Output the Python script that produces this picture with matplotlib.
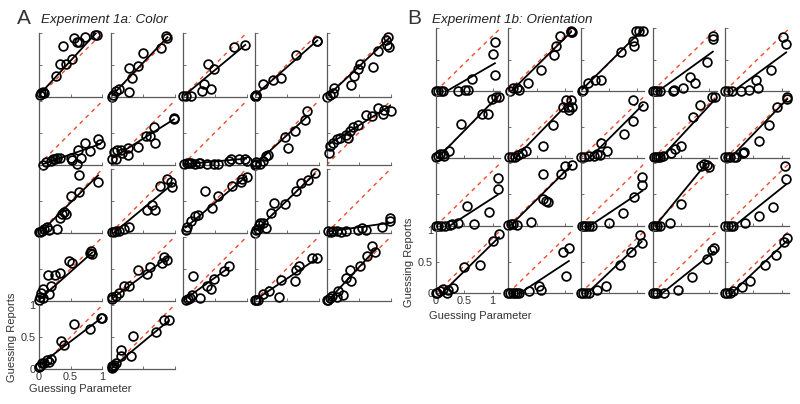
import matplotlib
matplotlib.use('Agg')
import matplotlib.pyplot as plt
import numpy as np

plt.rcParams['font.family'] = ['Liberation Sans', 'DejaVu Sans']

# ---------------- Data: Experiment 1a (Color), 22 subjects ----------------
A_param = [
    [0.02,0.04,0.07,0.09,0.28,0.33,0.38,0.43,0.53,0.55,0.60,0.64,0.72,0.88,0.91],
    [0.02,0.04,0.08,0.13,0.29,0.29,0.33,0.43,0.51,0.79,0.86,0.89],
    [0.01,0.06,0.14,0.30,0.34,0.45,0.40,0.49,0.80,0.98],
    [0.0,0.01,0.02,0.03,0.14,0.29,0.41,0.65,0.98,0.97],
    [0.0,0.05,0.12,0.10,0.39,0.43,0.49,0.52,0.73,0.81,0.93,0.96,0.98,0.94],
    [0.07,0.12,0.20,0.25,0.29,0.33,0.22,0.51,0.53,0.60,0.61,0.67,0.72,0.80,0.93,0.96],
    [0.02,0.05,0.08,0.10,0.16,0.18,0.28,0.28,0.43,0.56,0.61,0.68,0.69,0.99,0.99],
    [0.03,0.07,0.10,0.14,0.20,0.25,0.28,0.38,0.49,0.56,0.72,0.76,0.88,0.98,1.0],
    [0.0,0.03,0.08,0.13,0.18,0.21,0.52,0.47,0.64,0.79,0.82,0.02],
    [0.04,0.05,0.10,0.17,0.21,0.30,0.34,0.36,0.41,0.49,0.61,0.71,0.81,0.89,0.90,1.0],
    [0.0,0.03,0.06,0.09,0.13,0.17,0.29,0.33,0.37,0.40,0.43,0.51,0.64,0.64,0.93],
    [0.02,0.05,0.09,0.13,0.21,0.29,0.57,0.65,0.69,0.77,0.89,0.94,0.96],
    [0.05,0.07,0.14,0.20,0.24,0.35,0.46,0.55,0.78,0.91,0.93,1.0],
    [0.0,0.03,0.05,0.07,0.09,0.13,0.18,0.26,0.31,0.47,0.65,0.72,0.83,0.94],
    [0.03,0.07,0.10,0.17,0.23,0.31,0.49,0.55,0.61,0.87,0.99,0.99],
    [0.0,0.02,0.04,0.07,0.07,0.17,0.20,0.15,0.25,0.33,0.47,0.53,0.80,0.82,0.84],
    [0.02,0.03,0.08,0.13,0.21,0.29,0.43,0.57,0.61,0.80,0.83,0.89],
    [0.05,0.08,0.11,0.15,0.17,0.28,0.39,0.44,0.49,0.65,0.72],
    [0.0,0.03,0.05,0.13,0.23,0.39,0.42,0.63,0.65,0.69,0.90,0.98],
    [0.0,0.03,0.05,0.08,0.16,0.18,0.25,0.31,0.36,0.39,0.52,0.63,0.71,0.76],
    [0.01,0.03,0.05,0.09,0.14,0.17,0.19,0.35,0.40,0.56,0.81,0.97,0.99],
    [0.02,0.03,0.04,0.05,0.08,0.17,0.17,0.32,0.35,0.71,0.83,0.91],
]
A_reports = [
    [0.03,0.07,0.08,0.07,0.33,0.51,0.79,0.51,0.59,0.92,0.86,0.86,0.94,0.97,0.97],
    [0.0,0.03,0.09,0.12,0.08,0.46,0.30,0.48,0.69,0.77,0.95,0.92],
    [0.02,0.02,0.02,0.10,0.20,0.13,0.52,0.44,0.78,0.82],
    [0.02,0.01,0.03,0.02,0.20,0.27,0.30,0.66,0.88,0.87],
    [0.0,0.03,0.14,0.07,0.18,0.33,0.44,0.52,0.47,0.72,0.89,0.93,0.78,0.82],
    [0.0,0.04,0.06,0.10,0.11,0.11,0.09,0.11,0.08,0.02,0.24,0.11,0.35,0.22,0.40,0.33],
    [0.10,0.21,0.10,0.24,0.24,0.19,0.15,0.27,0.28,0.45,0.46,0.59,0.35,0.74,0.72],
    [0.02,0.03,0.03,0.03,0.02,0.03,0.03,0.01,0.02,0.02,0.06,0.10,0.09,0.09,0.06],
    [0.0,0.02,0.02,0.06,0.14,0.16,0.26,0.44,0.53,0.70,0.84,0.04],
    [0.19,0.30,0.35,0.40,0.42,0.47,0.42,0.53,0.59,0.63,0.78,0.77,0.89,0.80,0.86,0.84],
    [0.01,0.02,0.03,0.07,0.09,0.05,0.06,0.24,0.30,0.33,0.30,0.58,0.64,0.91,0.80],
    [0.01,0.02,0.03,0.03,0.06,0.10,0.36,0.44,0.36,0.73,0.84,0.80,0.72],
    [0.05,0.10,0.18,0.26,0.28,0.65,0.39,0.58,0.73,0.80,0.84,0.87],
    [0.0,0.05,0.07,0.13,0.15,0.16,0.08,0.32,0.47,0.45,0.66,0.78,0.83,0.93],
    [0.03,0.02,0.03,0.03,0.02,0.03,0.05,0.08,0.05,0.10,0.19,0.23],
    [0.02,0.07,0.13,0.05,0.19,0.11,0.23,0.41,0.41,0.44,0.63,0.59,0.75,0.78,0.74],
    [0.06,0.03,0.08,0.13,0.23,0.24,0.49,0.42,0.53,0.60,0.69,0.64],
    [0.02,0.03,0.05,0.09,0.39,0.05,0.23,0.18,0.35,0.47,0.54],
    [0.01,0.02,0.01,0.11,0.15,0.07,0.33,0.32,0.49,0.54,0.67,0.67],
    [0.01,0.02,0.05,0.08,0.07,0.15,0.10,0.36,0.48,0.31,0.54,0.71,0.86,0.77],
    [0.03,0.05,0.09,0.10,0.14,0.11,0.16,0.44,0.38,0.70,0.63,0.79,0.80],
    [0.01,0.05,0.03,0.06,0.09,0.30,0.20,0.20,0.51,0.58,0.77,0.77],
]
A_slope = [1.09,1.05,0.83,0.88,0.94,0.35,0.63,0.09,0.92,0.63,0.99,0.83,0.84,0.96,0.14,
           0.89,0.74,0.72,0.67,1.08,0.76,0.83]
A_icpt = [0.02,0.0,0.0,0.02,0.0,-0.01,0.09,0.01,0.0,0.30,-0.02,-0.04,0.045,0.02,0.02,
          0.01,0.02,0.0,0.01,-0.02,0.05,0.0]

# ---------------- Data: Experiment 1b (Orientation), 20 subjects ----------------
B_param = [
    [0.0,0.04,0.08,0.13,0.39,0.51,0.56,0.63,1.04,1.01,1.04],
    [0.03,0.08,0.15,0.19,0.35,0.58,0.80,0.85,0.92,1.11,1.11,1.12],
    [0.02,0.04,0.13,0.25,0.37,0.72,0.92,0.94,0.98,1.03,1.10],
    [0.01,0.04,0.08,0.13,0.36,0.37,0.53,0.65,0.74,0.96,1.06,1.06],
    [0.0,0.06,0.12,0.29,0.43,0.58,0.54,0.81,1.02,1.08],
    [0.0,0.04,0.07,0.12,0.15,0.23,0.45,0.82,0.92,0.98,1.06,1.11],
    [0.02,0.06,0.12,0.18,0.25,0.32,0.61,0.79,0.96,1.02,1.05,1.08,1.11,1.12],
    [0.0,0.06,0.15,0.23,0.29,0.34,0.46,0.37,0.76,0.92,0.92,1.10],
    [0.02,0.05,0.09,0.13,0.18,0.33,0.40,0.49,0.71,0.84,1.04,1.10],
    [0.0,0.05,0.09,0.16,0.20,0.31,0.33,0.60,0.77,0.91,1.09,1.10],
    [0.0,0.04,0.08,0.16,0.25,0.29,0.39,0.54,0.67,0.94,1.09,1.09],
    [0.0,0.04,0.09,0.16,0.40,0.61,0.61,0.66,0.71,0.94,1.0,1.12],
    [0.02,0.06,0.10,0.15,0.20,0.50,0.75,0.95,1.09,1.09],
    [0.0,0.04,0.08,0.12,0.30,0.50,0.85,0.90,0.96,1.0],
    [0.0,0.05,0.10,0.15,0.35,0.60,0.85,1.08,1.06],
    [0.0,0.02,0.07,0.12,0.19,0.22,0.30,0.49,0.77,1.01,1.11],
    [0.0,0.03,0.08,0.12,0.16,0.19,0.37,0.54,0.58,0.96,1.02,1.07],
    [0.0,0.05,0.10,0.15,0.30,0.45,0.70,0.90,1.05,1.08],
    [0.0,0.04,0.08,0.20,0.45,0.70,0.95,1.05,1.08],
    [0.0,0.04,0.08,0.15,0.30,0.45,0.70,0.90,1.05,1.10],
]
B_reports = [
    [0,0,0,0,0,0.02,0.02,0.19,0.26,0.59,0.78],
    [0,0.04,0.04,0.01,0.12,0.34,0.57,0.71,0.88,0.94,0.96,0.93],
    [0,0.02,0.12,0.17,0.18,0.62,0.80,0.71,0.95,0.96,0.96],
    [0,0,0,0,0,0.01,0.04,0.23,0.12,0.46,0.88,0.83],
    [0,0,0,0,0.01,0.04,0.17,0.34,0.86,0.74],
    [0.02,0.04,0.07,0.07,0.04,0.12,0.54,0.71,0.71,0.94,0.98,0.97],
    [0.03,0.03,0.03,0.05,0.08,0.11,0.20,0.53,0.81,0.93,0.81,0.77,0.93,0.81],
    [0.02,0.03,0.04,0.04,0.07,0.05,0.12,0.24,0.39,0.60,0.93,0.83],
    [0.02,0.02,0.03,0.03,0.04,0.08,0.15,0.20,0.65,0.85,0.97,0.97],
    [0.02,0.02,0.03,0.03,0.03,0.08,0.10,0.28,0.53,0.81,0.94,0.97],
    [0,0,0,0,0.01,0.03,0.04,0.32,0.03,0.22,0.59,0.76],
    [0.01,0.03,0.03,0.01,0.06,0.83,0.42,0.39,0.37,0.83,0.95,0.97],
    [0,0,0,0,0,0.04,0.20,0.45,0.78,0.65],
    [0,0,0,0,0.05,0.35,0.95,0.98,0.97,0.93],
    [0,0,0,0,0.05,0.15,0.30,0.75,0.95],
    [0,0,0.04,0.06,0,0.05,0.08,0.41,0.45,0.83,0.94],
    [0,0,0,0,0,0,0.03,0.11,0.05,0.65,0.28,0.71],
    [0,0,0,0,0.05,0.12,0.45,0.65,0.92,0.80],
    [0,0,0,0,0.05,0.25,0.55,0.68,0.72],
    [0,0,0,0.03,0.10,0.20,0.45,0.60,0.82,0.88],
]
B_slope = [0.52,0.89,0.89,0.65,0.66,0.92,0.93,0.90,0.97,0.93,0.58,0.89,0.60,1.10,0.72,
           0.88,0.59,0.85,0.72,0.85]
B_icpt = [-0.10,-0.05,0.0,-0.065,-0.10,-0.02,-0.11,-0.14,-0.13,-0.08,-0.14,-0.03,-0.10,
          -0.05,-0.12,-0.09,-0.12,-0.10,-0.12,-0.10]

ref_A_x = [0, 1.0]
ref_A_y = [0, 1.0]
ref_B_x = [0, 1.12]
ref_B_y = [0, 0.98]

tick_vals = [0, 0.5, 1]
tick_text = ['0', '0.5', '1']

# ---------------- Figure ----------------
W, H = 800, 404
fig = plt.figure(figsize=(W / 100, H / 100), dpi=100)

SPINE = '#5a5a5a'
RED = '#ee4b2b'


def add_ax(left, bottom, w, h):
    return fig.add_axes([left / W, 1 - bottom / H, w / W, h / H])


def draw(ax, x, y, slope, icpt, xlim, ylim, refx, refy, labeled):
    ax.plot(refx, refy, color=RED, lw=1.0, ls=(0, (3, 3)), zorder=1)
    xs = np.array([min(x), max(x)])
    ax.plot(xs, slope * xs + icpt, color='k', lw=1.3, zorder=2)
    ax.plot(x, y, 'o', mfc='none', mec='k', ms=6.3, mew=1.25, clip_on=False, zorder=3)
    ax.set_xlim(*xlim)
    ax.set_ylim(*ylim)
    for s in ['top', 'right']:
        ax.spines[s].set_visible(False)
    for s in ['left', 'bottom']:
        ax.spines[s].set_color(SPINE)
        ax.spines[s].set_linewidth(0.9)
    ax.set_xticks(tick_vals)
    ax.set_yticks(tick_vals)
    ax.tick_params(direction='in', length=2, width=0.6, color=SPINE,
                   labelsize=7.8, labelcolor='#333333', pad=2)
    ax.patch.set_alpha(0)
    if labeled:
        ax.set_xticklabels(tick_text)
        ax.set_yticklabels(tick_text)
    else:
        ax.set_xticklabels([])
        ax.set_yticklabels([])


# Panel A
for i in range(len(A_param)):
    r, c = divmod(i, 5)
    left = 38.5 + 72 * c
    bottom = 97 + 68 * r
    ax = add_ax(left, bottom, 64, 64)
    draw(ax, A_param[i], A_reports[i], A_slope[i], A_icpt[i], (0, 1.0), (0, 1.0),
         ref_A_x, ref_A_y, labeled=(i == 20))

# Panel B
for i in range(len(B_param)):
    r, c = divmod(i, 5)
    left = 436 + 72.25 * c
    bottom = 91 + 67.4 * r
    ax = add_ax(left, bottom, 64, 63)
    draw(ax, B_param[i], B_reports[i], B_slope[i], B_icpt[i], (0, 1.13), (0, 1.0),
         ref_B_x, ref_B_y, labeled=(i == 15))

# Titles
fig.text(17 / W, 1 - 23.5 / H, 'A', fontsize=15, color='#333333', ha='left', va='baseline')
fig.text(41 / W, 1 - 22.5 / H, 'Experiment 1a: Color', fontsize=9.7, style='italic',
         color='#222222', ha='left', va='baseline')
fig.text(407 / W, 1 - 23.5 / H, 'B', fontsize=15, color='#333333', ha='left', va='baseline')
fig.text(432 / W, 1 - 22.5 / H, 'Experiment 1b: Orientation', fontsize=9.7, style='italic',
         color='#222222', ha='left', va='baseline')

# Axis labels
fig.text(12.5 / W, 1 - 337 / H, 'Guessing Reports', rotation=90, fontsize=8,
         color='#333333', ha='center', va='center')
fig.text(80 / W, 1 - 389 / H, 'Guessing Parameter', fontsize=8,
         color='#333333', ha='center', va='center')
fig.text(409 / W, 1 - 262 / H, 'Guessing Reports', rotation=90, fontsize=8,
         color='#333333', ha='center', va='center')
fig.text(480 / W, 1 - 316 / H, 'Guessing Parameter', fontsize=8,
         color='#333333', ha='center', va='center')

fig.savefig('out.png', dpi=100)
